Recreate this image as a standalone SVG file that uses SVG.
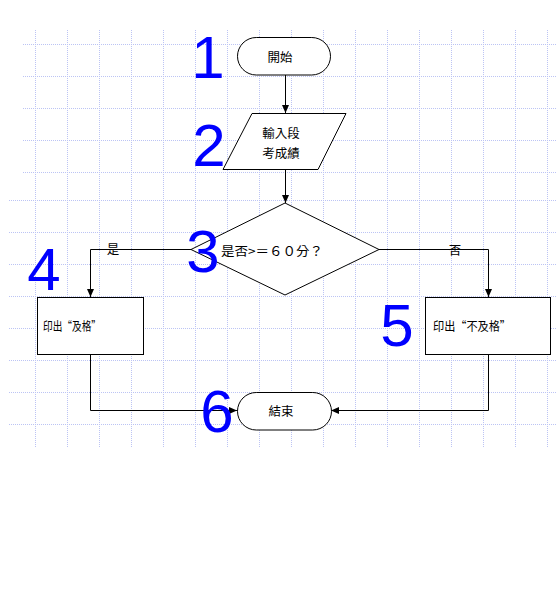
<svg xmlns="http://www.w3.org/2000/svg" width="556" height="600" viewBox="0 0 556 600">
<style>
.grid{stroke:#bcc4f4;stroke-width:1;stroke-dasharray:1 1;fill:none}
.shape{fill:#fff;stroke:#000;stroke-width:1}
.conn{fill:none;stroke:#000;stroke-width:1}
.t{font-family:"Noto Sans CJK TC","Noto Sans CJK SC",sans-serif;font-size:12.5px;fill:#000}
.num{font-family:"Liberation Sans",Arial,sans-serif;font-size:60px;fill:#0000ff;text-anchor:middle}
</style>
<defs>
<marker id="arr" viewBox="0 0 8 8" refX="8" refY="4" markerWidth="8" markerHeight="8" markerUnits="userSpaceOnUse" orient="auto">
<path d="M0,0.5 L8,4 L0,7.5 Z" fill="#000"/>
</marker>
</defs>
<rect width="556" height="600" fill="#fff"/>
<g id="grid" class="grid">
<path d="M35.5,30V448M67.5,30V448M99.5,30V448M131.5,30V448M163.5,30V448M195.5,30V448M227.5,30V448M259.5,30V448M291.5,30V448M323.5,30V448M355.5,30V448M387.5,30V448M419.5,30V448M451.5,30V448M483.5,30V448M515.5,30V448M547.5,30V448"/>
<path d="M23,44.5H556M23,76.5H556M23,108.5H556M23,140.5H556M23,172.5H556M9,200.5H556M9,232.5H556M9,264.5H556M9,296.5H556M9,328.5H556M9,360.5H556M9,392.5H556M9,424.5H556"/>
</g>
<g id="connectors" class="conn">
<path d="M285.5,75V113" marker-end="url(#arr)"/>
<path d="M285.5,169V203" marker-end="url(#arr)"/>
<path d="M191,249.5H90.5V297" marker-end="url(#arr)"/>
<path d="M379,249.5H488.5V297" marker-end="url(#arr)"/>
<path d="M90.5,354V410.5H237" marker-end="url(#arr)"/>
<path d="M488.5,354V410.5H331" marker-end="url(#arr)"/>
<text class="t" x="113" y="254" text-anchor="middle" stroke="none" fill="#000">是</text>
<text class="t" x="455" y="255" text-anchor="middle" stroke="none" fill="#000">否</text>
</g>
<g id="n1">
<rect class="shape" x="237.5" y="37.5" width="93" height="37.5" rx="18.75"/>
<text class="t" x="280" y="62" text-anchor="middle">開始</text>
</g>
<g id="n2">
<polygon class="shape" points="252,113.5 346,113.5 318,169.5 223,169.5"/>
<text class="t" x="281" y="138" text-anchor="middle">輸入段</text>
<text class="t" x="281" y="158" text-anchor="middle">考成績</text>
</g>
<g id="n3">
<polygon class="shape" points="285,203 379,249.5 285,295 191,249.5"/>
<text class="t" x="221" y="256" textLength="102" lengthAdjust="spacingAndGlyphs">是否&gt;＝６０分？</text>
</g>
<g id="n4">
<rect class="shape" x="37.5" y="297.5" width="106" height="57"/>
<text class="t" x="43" y="331" textLength="58" lengthAdjust="spacingAndGlyphs">印出“及格”</text>
</g>
<g id="n5">
<rect class="shape" x="425.5" y="297.5" width="125" height="57"/>
<text class="t" x="433" y="331" textLength="78" lengthAdjust="spacingAndGlyphs">印出“不及格”</text>
</g>
<g id="n6">
<rect class="shape" x="237.5" y="392.5" width="94" height="37.5" rx="18.75"/>
<text class="t" x="281" y="416" text-anchor="middle">結束</text>
</g>
<g id="labels">
<text class="num" x="208" y="78">1</text>
<text class="num" x="209" y="166">2</text>
<text class="num" x="203" y="272">3</text>
<text class="num" x="44" y="290">4</text>
<text class="num" x="397" y="346">5</text>
<text class="num" x="217" y="432">6</text>
</g>
</svg>
